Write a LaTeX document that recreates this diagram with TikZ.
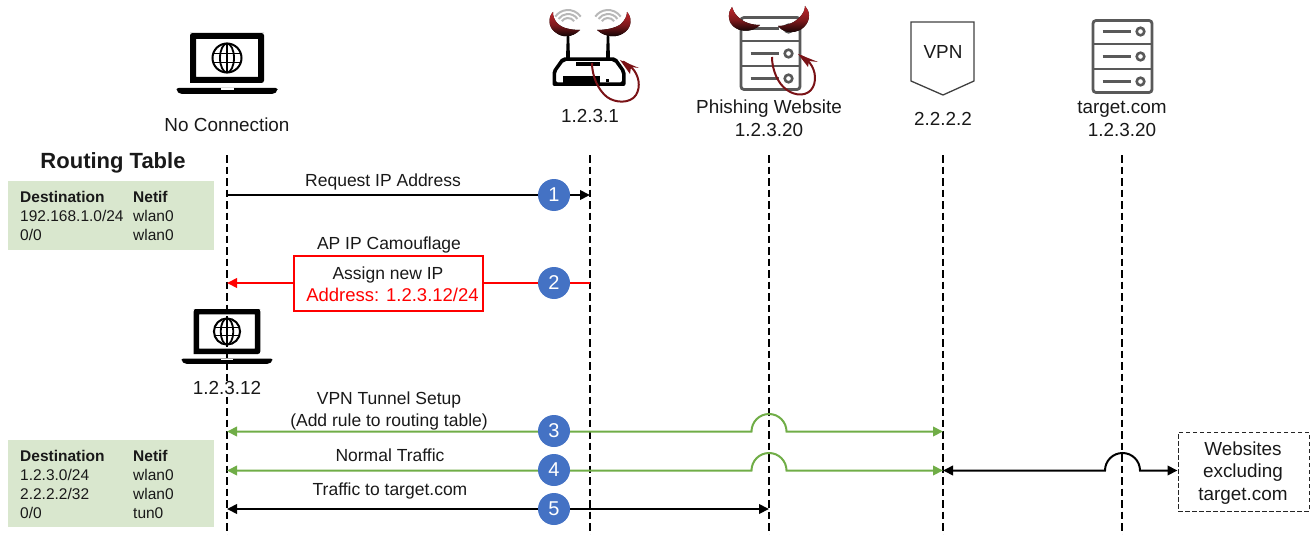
\documentclass[tikz,border=0pt]{standalone}
\usepackage{fontspec}
\setmainfont{Liberation Sans}
\usetikzlibrary{arrows.meta,calc}
\definecolor{tablegreen}{HTML}{D9E7CE}
\definecolor{flowgreen}{HTML}{70AD47}
\definecolor{badgeblue}{HTML}{4472C4}
\definecolor{icongray}{HTML}{595959}
\definecolor{hornred}{HTML}{C0262B}
\definecolor{taildark}{HTML}{7A1216}
\tikzset{
  x=1pt,y=-1pt,
  >={Triangle[length=10pt,width=9.5pt]},
  lbl/.style={inner sep=0pt,text depth=0pt,text=black!90},
  toplabel/.style={lbl,text height=13.6pt,font=\fontsize{18.9}{22}\selectfont},
  msg/.style={lbl,text height=12.6pt,font=\fontsize{17.5}{20}\selectfont},
  redmsg/.style={lbl,text height=13.3pt,text=red,font=\fontsize{18.5}{22}\selectfont},
  tabtxt/.style={lbl,text height=11.2pt,anchor=west,font=\fontsize{15.5}{18}\selectfont},
  tabhead/.style={tabtxt,font=\fontsize{15.5}{18}\selectfont\bfseries},
  tablebox/.style={fill=tablegreen,draw=none,inner sep=0pt,minimum width=206pt},
  lifeline/.style={draw=black,line width=2pt,dash pattern=on 7.5pt off 4pt},
  blackflow/.style={draw=black,line width=2pt},
  greenflow/.style={draw=flowgreen,line width=2pt},
  redflow/.style={draw=red,line width=2pt},
  badge/.style={circle,fill=badgeblue,minimum size=32pt,inner sep=0pt,text=white,font=\fontsize{20}{24}\selectfont},
  horn/.style={draw=none,top color=hornred,bottom color=black,middle color=hornred!65!black},
  tail/.style={draw=taildark,line width=2pt},
  tailtip/.style={fill=taildark,draw=none},
  laptop/.pic={
    \fill[black,even odd rule] (-34.5,-25) [rounded corners=2.5pt] -- (34.5,-25) -- (37,-25) -- (37,25) [sharp corners] -- (-37,25) [rounded corners=2.5pt] -- (-37,-25) -- cycle
      [sharp corners] (-31,-19) rectangle (31,19);
    \fill[black,rounded corners=2pt] (-50.5,30) -- (50.5,30) -- (50.5,33) -- (47,36) -- (-47,36) -- (-50.5,33) -- cycle;
    \fill[white] (-6.5,30) rectangle (6.5,32);
    \draw[black,line width=2pt] (0,0) circle[radius=14.5];
    \draw[black,line width=1.8pt] (0,0) ellipse[x radius=7,y radius=14.5];
    \draw[black,line width=1.8pt] (0,-14.5) -- (0,14.5) (-13.5,-4.5) -- (13.5,-4.5) (-13.5,4.5) -- (13.5,4.5);
  },
  serverbox/.pic={
    \draw[icongray,line width=2.8pt,rounded corners=3pt] (-29.5,-36) rectangle (29.5,36);
    \draw[icongray,line width=2.8pt] (-29.5,-12.5) -- (29.5,-12.5) (-29.5,12.5) -- (29.5,12.5);
    \foreach \ry in {-25,0,25}{
      \draw[icongray,line width=2.8pt] (-20,\ry) -- (8.5,\ry);
      \draw[icongray,line width=2.6pt] (18,\ry) circle[radius=3.8];
    }
  },
}
\begin{document}
\begin{tikzpicture}
\useasboundingbox (0,0) rectangle (1310,535);
% lifeline anchors
\foreach \nm/\lx in {cl/227,ap/590,ph/769,vp/943,tg/1122}{
  \coordinate (\nm top) at (\lx,155);
  \coordinate (\nm bot) at (\lx,535);
  \draw[lifeline] (\nm top) -- (\nm bot);
}
% laptops
\pic at (227,58) {laptop};
\pic[scale=0.9] at (227,331.5) {laptop};
\node[toplabel] (labclient) at (227,125) {No Connection};
\node[toplabel,fill=white] (labclient2) at (227,388) {1.2.3.12};
% router
\begin{scope}
  \foreach \wx in {568,608}{
    \foreach \wr in {7.5,11.5,15.5}{
      \draw[black!28,line width=2pt] ($(\wx,25.5)+(-35:\wr)$) arc[start angle=-35,end angle=-145,radius=\wr];
    }
  }
  \fill[black] (566.8,35) -- (569.2,35) -- (570,58) -- (566,58) -- cycle;
  \fill[black] (606.8,35) -- (609.2,35) -- (610,58) -- (606,58) -- cycle;
  \fill[black,even odd rule,rounded corners=2pt]
    (562,57.5) -- (616,57.5) -- (625.5,71) -- (625.5,86) -- (552.5,86) -- (552.5,71) -- cycle
    (564,61) -- (614,61) -- (622,72) -- (622,82.5) -- (556,82.5) -- (556,72) -- cycle;
  \fill[black] (576,62) rectangle (600,66);
  \fill[black] (563,76) rectangle (600,84);
  \fill[black] (605.5,79) rectangle (608.5,82);
  \fill[horn] (553,12) .. controls (548,17) and (548,27) .. (555,32) .. controls (562,38) and (572,38) .. (580,30) .. controls (571,30) and (562,28) .. (558,24) .. controls (554,20) and (553,16) .. cycle;
  \fill[horn] (627,12) .. controls (632,17) and (632,27) .. (625,32) .. controls (618,38) and (606,38) .. (597,30) .. controls (606,30) and (616,28) .. (621,24) .. controls (625,20) and (627,16) .. cycle;
  \draw[tail] (592,63) .. controls (592,76) and (598,90) .. (607,97) .. controls (615,103) and (630,104) .. (636,95) .. controls (641,87) and (639,75) .. (632,68) .. controls (629,65) and (626,63) .. (623,61.5);
  \fill[tailtip] (620,60) -- (639,68) -- (631,67) -- (630,74) -- cycle;
\end{scope}
\node[toplabel] (labap) at (590,116) {1.2.3.1};
% phishing server
\pic at (770.5,53.5) {serverbox};
\fill[horn] (732,7) .. controls (728,12) and (727,20) .. (733,26) .. controls (739,32) and (752,33) .. (760,25) .. controls (751,25) and (743,22) .. (738,17) .. controls (734,13) and (733,10) .. cycle;
\fill[horn] (805,6) .. controls (810,11) and (811,20) .. (804,27) .. controls (798,33) and (785,35) .. (778,26) .. controls (786,26) and (794,23) .. (799,18) .. controls (803,14) and (805,10) .. cycle;
\draw[tail] (772,57) .. controls (772,70) and (778,84) .. (787,90) .. controls (795,96) and (808,97) .. (813,87) .. controls (817,79) and (815,67) .. (807,60) .. controls (805,58) and (803,57) .. (801,56);
\fill[tailtip] (798,54) -- (818,62) -- (809,61) -- (808,67) -- cycle;
\node[toplabel] (labph) at (769,107) {Phishing Website};
\node[toplabel] (labph2) at (769,130) {1.2.3.20};
% VPN shield
\node[toplabel] (vpntxt) at (943,52) {VPN};
\draw[black!75,line width=1.3pt] (911,22) -- (974,22) -- (974,81) -- (943,95) -- (911,81) -- cycle;
\node[toplabel] (labvp) at (943,119) {2.2.2.2};
% target server
\pic at (1122.5,56.5) {serverbox};
\node[toplabel] (labtg) at (1122,107) {target.com};
\node[toplabel] (labtg2) at (1122,130) {1.2.3.20};
% routing tables
\node[lbl,text height=15.8pt,font=\fontsize{22}{26}\selectfont\bfseries] (rthead) at (113,161) {Routing Table};
\node[tablebox,minimum height=69pt] (rt1) at (111,215.5) {};
\node[tablebox,minimum height=87pt] (rt2) at (111,483.5) {};
\node[tabhead] (a1) at (20,197) {Destination};
\node[tabhead] (a2) at (133,197) {Netif};
\node[tabtxt] (a3) at (20,216) {192.168.1.0/24};
\node[tabtxt] (a4) at (133,216) {wlan0};
\node[tabtxt] (a5) at (20,235) {0/0};
\node[tabtxt] (a6) at (133,235) {wlan0};
\node[tabhead] (b1) at (20,456) {Destination};
\node[tabhead] (b2) at (133,456) {Netif};
\node[tabtxt] (b3) at (20,475) {1.2.3.0/24};
\node[tabtxt] (b4) at (133,475) {wlan0};
\node[tabtxt] (b5) at (20,494) {2.2.2.2/32};
\node[tabtxt] (b6) at (133,494) {wlan0};
\node[tabtxt] (b7) at (20,513) {0/0};
\node[tabtxt] (b8) at (133,513) {tun0};
% message 1
\coordinate (m1a) at (227,195); \coordinate (m1b) at (590,195);
\draw[blackflow,->] (m1a) -- (m1b);
\node[msg] (t1) at (383,180) {Request IP Address};
% message 2
\node[msg] (t2) at (389,243) {AP IP Camouflage};
\node[draw=red,line width=1.6pt,minimum width=189pt,minimum height=55pt,inner sep=0pt] (assign) at (388.5,283.5) {};
\node[msg] (t2a) at (388,273) {Assign new IP};
\node[redmsg] (t2b) at (392.5,295) {Address: 1.2.3.12/24};
\coordinate (m2a) at (590,283); \coordinate (m2b) at (227,283);
\draw[redflow] (m2a) -- (assign.east |- m2a);
\draw[redflow,->] (assign.west |- m2b) -- (m2b);
% message 3
\node[msg] (t3) at (389,398) {VPN Tunnel Setup};
\node[msg] (t3b) at (389,420) {(Add rule to routing table)};
\coordinate (m3a) at (227,431.5); \coordinate (m3h) at (751.5,431.5); \coordinate (m3b) at (943,431.5);
\draw[greenflow,<->] (m3a) -- (m3h) arc[start angle=180,end angle=360,radius=17.5] -- (m3b);
% message 4
\node[msg] (t4) at (390,455) {Normal Traffic};
\coordinate (m4a) at (227,470.5); \coordinate (m4h) at (751.5,470.5); \coordinate (m4b) at (943,470.5);
\draw[greenflow,<->] (m4a) -- (m4h) arc[start angle=180,end angle=360,radius=17.5] -- (m4b);
% websites box and link
\node[draw=black!85,line width=1pt,dash pattern=on 4.5pt off 2.5pt,minimum width=131pt,minimum height=79pt,inner sep=0pt] (web) at (1243.5,471.5) {};
\node[toplabel] (w1) at (1243,449) {Websites};
\node[toplabel] (w2) at (1243,471) {excluding};
\node[toplabel] (w3) at (1243,494) {target.com};
\coordinate (m6h) at (1105,470.5);
\draw[blackflow,<->] (m4b) -- (m6h) arc[start angle=180,end angle=360,radius=17.5] -- (web.west |- m6h);
% message 5
\node[msg] (t5) at (390,489) {Traffic to target.com};
\coordinate (m5a) at (227,509); \coordinate (m5b) at (769,509);
\draw[blackflow,<->] (m5a) -- (m5b);
% badges
\node[badge] (n1) at (554,195) {1};
\node[badge] (n2) at (554,283) {2};
\node[badge] (n3) at (554,431) {3};
\node[badge] (n4) at (554,470) {4};
\node[badge] (n5) at (554,509) {5};
\end{tikzpicture}
\end{document}
